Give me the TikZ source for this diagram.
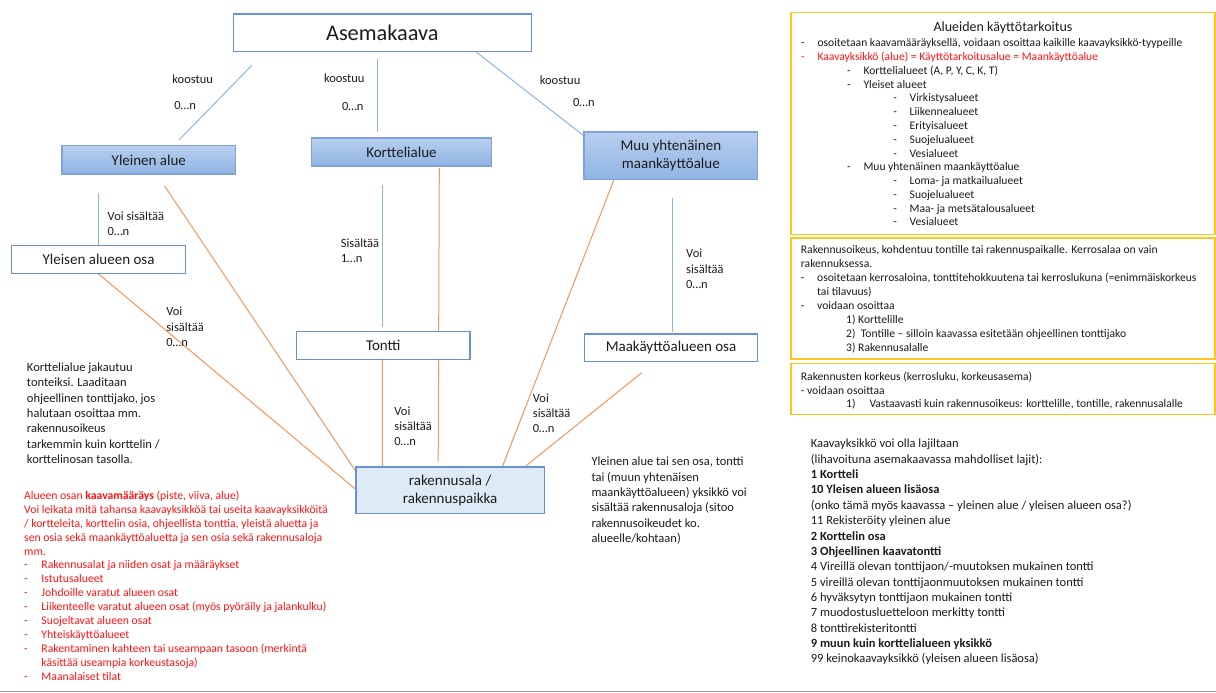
\documentclass[tikz,border=0pt]{standalone}
\usepackage{fontspec}
\setmainfont{Carlito}
\usetikzlibrary{calc}
\pgfdeclarelayer{background}
\pgfsetlayers{background,main}
\definecolor{boxborder}{RGB}{105,145,212}
\definecolor{blueline}{RGB}{140,182,228}
\definecolor{orline}{RGB}{242,150,92}
\definecolor{gold}{RGB}{255,196,30}
\definecolor{redtxt}{RGB}{255,20,20}
\definecolor{txt}{RGB}{28,28,28}
\definecolor{gtop}{RGB}{184,206,238}
\definecolor{gbot}{RGB}{143,181,228}
\definecolor{rakfill}{RGB}{222,235,247}
\definecolor{rule}{RGB}{160,160,160}
\newcommand\fsz[2]{\fontsize{#1pt}{#2pt}\selectfont}
\newcommand\fl{\rule{0pt}{0.8em}}
\newcommand\dsh[1]{\hspace*{#1pt}\makebox[16.3pt][l]{-}}
\newcommand\rdsh{\makebox[17.3pt][l]{-}}
\tikzset{
  whitebox/.style={draw=boxborder, line width=1.2pt, fill=white, inner sep=0pt, text=txt, font=\fsz{15}{18}, align=center},
  gradbox/.style={draw=boxborder!85, line width=1.2pt, top color=gtop, bottom color=gbot, inner sep=0pt, text=txt, font=\fsz{15}{18}, align=center},
  rakbox/.style={draw=boxborder, line width=1.2pt, fill=rakfill, inner sep=0pt, text=txt, font=\fsz{15}{17.7}, align=center},
  ybox/.style={draw=gold, line width=1.3pt, fill=white, inner sep=0pt, minimum width=424pt},
  lbl/.style={font=\fsz{12.5}{15}, text=txt, align=left, inner sep=0pt, anchor=north west, yshift=-1.5pt},
  rtxt/.style={font=\fsz{11.6}{13.77}, text=txt, align=left, inner sep=0pt, anchor=north west, yshift=-1.5pt},
  redt/.style={font=\fsz{11.7}{13.9}, text=redtxt, align=left, inner sep=0pt, anchor=north west, yshift=-1.5pt},
  bline/.style={draw=blueline, line width=1pt},
  oline/.style={draw=orline, line width=1pt},
}
\begin{document}
\begin{tikzpicture}[x=1pt,y=-1pt]
\useasboundingbox (0,0) rectangle (1216,693);
% main boxes
\node[whitebox, minimum width=297.8pt, minimum height=37.7pt, font=\fsz{22.3}{26}] (asema) at (382.3,32.85) {Asemakaava};
\node[gradbox, minimum width=173.7pt, minimum height=28.3pt] (yleinen) at (148.85,159.85) {Yleinen alue};
\node[gradbox, minimum width=180.7pt, minimum height=28pt] (kortteli) at (401.45,152) {Korttelialue};
\node[gradbox, minimum width=173.7pt, minimum height=47.3pt, yshift=-1pt] (muu) at (670.85,154.65) {Muu yhtenäinen\\maankäyttöalue};
\node[whitebox, minimum width=174.1pt, minimum height=28pt] (ylosa) at (98.55,259.3) {Yleisen alueen osa};
\node[whitebox, minimum width=173.4pt, minimum height=27.6pt] (tontti) at (383.3,345.5) {Tontti};
\node[whitebox, minimum width=173.4pt, minimum height=27.7pt] (maaosa) at (671,347.85) {Maakäyttöalueen osa};
\node[rakbox, minimum width=188.3pt, minimum height=46.3pt] (rak) at (450.15,490.15) {rakennusala /\\rakennuspaikka};

% connector end points
\coordinate (b1s) at (251.8,65.3);  \coordinate (b1e) at (179.1,140);
\coordinate (b2s) at (377.7,59.3);  \coordinate (b2e) at (377.7,132.3);
\coordinate (b4s) at (98.55,193);
\coordinate (b5s) at (382.3,185);   \coordinate (b5e) at (382.3,326.7);
\coordinate (b6s) at (672.7,198.3); \coordinate (b6e) at (672.7,331.7);
\coordinate (o1s) at (164.6,186);
\coordinate (o3s) at (439.3,168);   \coordinate (o3e) at (438.2,461.7);
\coordinate (o5s) at (614.5,178.3);
\coordinate (o6s) at (641.7,372.7); \coordinate (o6e) at (522.7,468.5);

\begin{pgfonlayer}{background}
\fill[white] (0,0) rectangle (1216,693);
\draw[bline] (b1s) -- (b1e);
\draw[bline] (b2s) -- (b2e);
\draw[bline] ($(asema.south)+(94.2,0)$) -- ($(muu.north west)+(0,4)$);
\draw[bline] (b4s) -- (ylosa.north);
\draw[bline] (b5s) -- (b5e);
\draw[bline] (b6s) -- (b6e);
\draw[oline] (o1s) -- ($(rak.north west)+(0,4.4)$);
\draw[oline] (ylosa.south) -- ($(rak.north west)+(0,22.7)$);
\draw[oline] (o3s) -- (o3e);
\draw[oline] ($(tontti.south)+(-1,0)$) -- ($(rak.north)+(-67.85,0)$);
\draw[oline] (o5s) -- ($(rak.north)+(52.35,0)$);
\draw[oline] (o6s) -- (o6e);
\end{pgfonlayer}

% connector labels
\node[lbl] (k1a) at (172.2,72.2) {\fl koostuu};
\node[lbl] (k1b) at (174.1,97.9) {\fl 0…n};
\node[lbl] (k2a) at (323.8,70.6) {\fl koostuu};
\node[lbl] (k2b) at (341.8,98.9) {\fl 0…n};
\node[lbl] (k3a) at (539.6,72.9) {\fl koostuu};
\node[lbl] (k3b) at (572.9,95.2) {\fl 0…n};
\node[lbl] (v1) at (107.5,208.6) {\fl Voi sisältää\\0…n};
\node[lbl] (s1) at (340.6,235.6) {\fl Sisältää\\1…n};
\node[lbl, font=\fsz{12.5}{15.3}] (v2) at (166.1,304.2) {\fl Voi\\sisältää\\0…n};
\node[lbl] (v3) at (394.2,403.6) {\fl Voi\\sisältää\\0…n};
\node[lbl, font=\fsz{12.5}{15.2}] (v4) at (532.7,390.4) {\fl Voi\\sisältää\\0…n};
\node[lbl, font=\fsz{12.5}{15.7}] (v5) at (686,245.6) {\fl Voi\\sisältää\\0…n};

% free texts
\node[lbl, font=\fsz{12.5}{15.3}] (lefttxt) at (26.8,359.9) {\fl Korttelialue jakautuu\\tonteiksi. Laaditaan\\ohjeellinen tonttijako, jos\\halutaan osoittaa mm.\\rakennusoikeus\\tarkemmin kuin korttelin /\\korttelinosan tasolla.};
\node[lbl, font=\fsz{12.5}{15.45}] (midtxt) at (591.3,453.9) {\fl Yleinen alue tai sen osa, tontti\\tai (muun yhtenäisen\\maankäyttöalueen) yksikkö voi\\sisältää rakennusaloja (sitoo\\rakennusoikeudet ko.\\alueelle/kohtaan)};
\node[lbl, font=\fsz{12.5}{15.36}] (listtxt) at (810.7,436.2) {\fl Kaavayksikkö voi olla lajiltaan\\
(lihavoituna asemakaavassa mahdolliset lajit):\\
\textbf{1 Kortteli}\\
\textbf{10 Yleisen alueen lisäosa}\\
(onko tämä myös kaavassa – yleinen alue / yleisen alueen osa?)\\
11 Rekisteröity yleinen alue\\
\textbf{2 Korttelin osa}\\
\textbf{3 Ohjeellinen kaavatontti}\\
4 Vireillä olevan tonttijaon/-muutoksen mukainen tontti\\
5 vireillä olevan tonttijaonmuutoksen mukainen tontti\\
6 hyväksytyn tonttijaon mukainen tontti\\
7 muodostusluetteloon merkitty tontti\\
8 tonttirekisteritontti\\
\textbf{9 muun kuin korttelialueen yksikkö}\\
99 keinokaavayksikkö (yleisen alueen lisäosa)};
\node[redt] (redtext) at (24,488.4) {\fl Alueen osan \textbf{kaavamääräys} (piste, viiva, alue)\\
Voi leikata mitä tahansa kaavayksikköä tai useita kaavayksikköitä\\
/ kortteleita, korttelin osia, ohjeellista tonttia, yleistä aluetta ja\\
sen osia sekä maankäyttöaluetta ja sen osia sekä rakennusaloja\\
mm.\\
\rdsh Rakennusalat ja niiden osat ja määräykset\\
\rdsh Istutusalueet\\
\rdsh Johdoille varatut alueen osat\\
\rdsh Liikenteelle varatut alueen osat (myös pyöräily ja jalankulku)\\
\rdsh Suojeltavat alueen osat\\
\rdsh Yhteiskäyttöalueet\\
\rdsh Rakentaminen kahteen tai useampaan tasoon (merkintä\\
\hspace*{17.3pt}käsittää useampia korkeustasoja)\\
\rdsh Maanalaiset tilat};

% yellow boxes
\node[ybox, minimum height=221.6pt] (box1) at (1003,123.5) {};
\node[ybox, minimum height=121pt] (box2) at (1003,298.5) {};
\node[ybox, minimum height=51pt] (box3) at (1003,389) {};
\node[font=\fsz{14}{17}, text=txt, inner sep=0pt, anchor=base] (b1title) at (1003,31.3) {Alueiden käyttötarkoitus};
\node[rtxt] (b1txt) at (801,35.9) {\fl\dsh{0}osoitetaan kaavamääräyksellä, voidaan osoittaa kaikille kaavayksikkö-tyypeille\\
\textcolor{redtxt}{\dsh{0}Kaavayksikkö (alue) = Käyttötarkoitusalue = Maankäyttöalue}\\
\dsh{46}Korttelialueet (A, P, Y, C, K, T)\\
\dsh{46}Yleiset alueet\\
\dsh{92.2}Virkistysalueet\\
\dsh{92.2}Liikennealueet\\
\dsh{92.2}Erityisalueet\\
\dsh{92.2}Suojelualueet\\
\dsh{92.2}Vesialueet\\
\dsh{46}Muu yhtenäinen maankäyttöalue\\
\dsh{92.2}Loma- ja matkailualueet\\
\dsh{92.2}Suojelualueet\\
\dsh{92.2}Maa- ja metsätalousalueet\\
\dsh{92.2}Vesialueet};
\node[rtxt, font=\fsz{11.6}{14}] (b2txt) at (800.7,242.6) {\fl Rakennusoikeus, kohdentuu tontille tai rakennuspaikalle. Kerrosalaa on vain\\
rakennuksessa.\\
\dsh{0}osoitetaan kerrosaloina, tonttitehokkuutena tai kerroslukuna (=enimmäiskorkeus\\
\hspace*{16.3pt}tai tilavuus)\\
\dsh{0}voidaan osoittaa\\
\hspace*{45.3pt}1) Korttelille\\
\hspace*{45.3pt}2)\ \ Tontille – silloin kaavassa esitetään ohjeellinen tonttijako\\
\hspace*{45.3pt}3) Rakennusalalle};
\node[rtxt, font=\fsz{11.6}{13.65}] (b3txt) at (800.7,369.6) {\fl Rakennusten korkeus (kerrosluku, korkeusasema)\\
{-} voidaan osoittaa\\
\hspace*{45.3pt}\makebox[23.3pt][l]{1)}Vastaavasti kuin rakennusoikeus: korttelille, tontille, rakennusalalle};

% bottom rule
\draw[draw=rule, line width=1.5pt] (0,691.7) -- (1216,691.7);
\end{tikzpicture}
\end{document}
